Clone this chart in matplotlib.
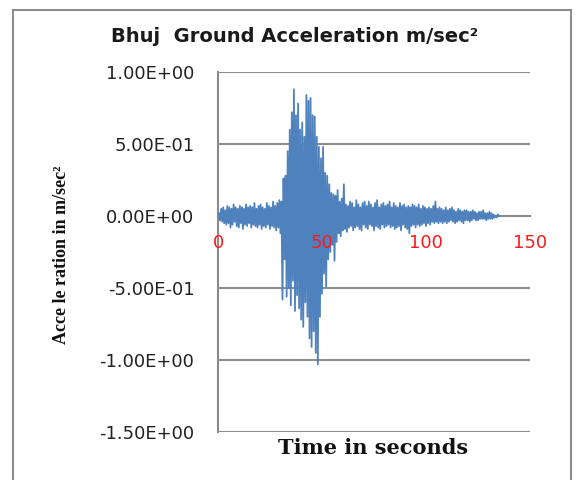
import numpy as np
import matplotlib
matplotlib.use('Agg')
from matplotlib import pyplot as plt
import matplotlib.patches as mpatches

dt = 0.5
acc = [
    # 0 - 30.5 s : low level noise
    0.00, 0.02, -0.03, 0.05, -0.04, 0.06, -0.05, 0.04, -0.06, 0.07,
    -0.05, 0.06, -0.08, 0.05, -0.06, 0.08, -0.04, 0.06, -0.07, 0.05,
    -0.08, 0.07, -0.05, 0.06, -0.09, 0.05, -0.06, 0.08, -0.07, 0.06,
    -0.05, 0.07, -0.08, 0.06, -0.06, 0.09, -0.07, 0.05, -0.08, 0.07,
    -0.06, 0.08, -0.09, 0.06, -0.07, 0.05, -0.08, 0.09, -0.06, 0.07,
    -0.09, 0.06, -0.07, 0.10, -0.08, 0.07, -0.10, 0.09, -0.08, 0.11,
    -0.12, 0.10,
    # 31 - 60.5 s : strong motion
    -0.58, 0.26, -0.30, 0.28, -0.56, 0.45, -0.50, 0.60, -0.62, 0.72,
    -0.45, 0.88, -0.66, 0.70, -0.55, 0.78, -0.64, 0.60, -0.72, 0.65,
    -0.77, 0.55, -0.60, 0.84, -0.70, 0.80, -0.85, 0.82, -0.91, 0.70,
    -0.80, 0.69, -0.95, 0.55, -1.03, 0.48, -0.70, 0.40, -0.54, 0.48,
    -0.40, 0.30, -0.49, 0.28, -0.30, 0.22, -0.25, 0.16, -0.20, 0.15,
    -0.31, 0.14, -0.18, 0.18, -0.12, 0.10, -0.14, 0.12, -0.10, 0.22,
    # 61 - 135 s : coda
    -0.09, 0.08, -0.11, 0.07, -0.08, 0.10, -0.07, 0.09, -0.10, 0.06,
    -0.08, 0.11, -0.07, 0.08, -0.09, 0.06, -0.10, 0.09, -0.06, 0.10,
    -0.08, 0.07, -0.09, 0.10, -0.06, 0.08, -0.07, 0.06, -0.10, 0.09,
    -0.07, 0.11, -0.08, 0.06, -0.09, 0.08, -0.06, 0.09, -0.08, 0.07,
    -0.07, 0.08, -0.06, 0.10, -0.08, 0.06, -0.07, 0.09, -0.09, 0.07,
    -0.08, 0.06, -0.07, 0.09, -0.10, 0.07, -0.06, 0.08, -0.08, 0.06,
    -0.09, 0.07, -0.12, 0.06, -0.07, 0.08, -0.06, 0.07, -0.08, 0.06,
    -0.06, 0.08, -0.07, 0.05, -0.06, 0.07, -0.05, 0.06, -0.07, 0.05,
    -0.05, 0.06, -0.06, 0.05, -0.04, 0.07, -0.05, 0.10, -0.04, 0.05,
    -0.05, 0.06, -0.04, 0.05, -0.05, 0.04, -0.04, 0.06, -0.05, 0.04,
    -0.04, 0.05, -0.03, 0.06, -0.04, 0.04, -0.05, 0.03, -0.04, 0.05,
    -0.03, 0.04, -0.04, 0.03, -0.05, 0.04, -0.03, 0.04, -0.03, 0.03,
    -0.04, 0.03, -0.03, 0.04, -0.02, 0.03, -0.03, 0.02, -0.03, 0.03,
    -0.02, 0.03, -0.02, 0.04, -0.02, 0.02, -0.03, 0.02, -0.02, 0.03,
    -0.02, 0.02, -0.02, 0.01, -0.01, 0.00, -0.01, 0.01, 0.00,
]
time = np.arange(len(acc)) * dt

x_ticks = [0, 50, 100, 150]
y_ticks = [1.0, 0.5, 0.0, -0.5, -1.0, -1.5]
y_tick_labels = ['1.00E+00', '5.00E-01', '0.00E+00', '-5.00E-01', '-1.00E+00', '-1.50E+00']

grid_color = '#8c8c8c'
line_color = '#4f81bd'

fig = plt.figure(figsize=(5.82, 4.8), dpi=100)

# outer chart border
fig.patches.append(mpatches.Rectangle((13 / 582, -0.05), 558 / 582, 1.05 - 10 / 480,
                                      transform=fig.transFigure, fill=False,
                                      edgecolor=grid_color, linewidth=1.5))

ax = fig.add_axes([218 / 582, 48 / 480, 312 / 582, 360 / 480])
ax.plot(time, acc, color=line_color, linewidth=1.3, zorder=3)

ax.set_xlim(0, 150)
ax.set_ylim(-1.5, 1.0)
ax.set_yticks(y_ticks)
ax.set_yticklabels(y_tick_labels)
ax.set_xticks(x_ticks)
ax.set_xticklabels([str(v) for v in x_ticks])

ax.yaxis.grid(True, color=grid_color, linewidth=1.5)
ax.set_axisbelow(True)
ax.xaxis.set_zorder(5)  # red time labels sit on top of the trace

for side in ['top', 'right']:
    ax.spines[side].set_visible(False)
ax.spines['left'].set_color(grid_color)
ax.spines['left'].set_linewidth(1.5)
ax.spines['bottom'].set_position(('data', 0))
ax.spines['bottom'].set_color(grid_color)
ax.spines['bottom'].set_linewidth(1.5)
ax.spines['bottom'].set_zorder(2)

ax.tick_params(axis='y', length=0, pad=17, labelsize=13, labelcolor='#222222')
ax.tick_params(axis='x', length=0, pad=13, labelsize=13, labelcolor='#ff1a1a')

fig.text(295 / 582, 1 - 36 / 480, 'Bhuj  Ground Acceleration m/sec²', ha='center', va='center',
         fontsize=14, fontweight='bold', color='#1a1a1a')
fig.text(62 / 582, 1 - 255 / 480, 'Acce le ration in m/sec²', ha='center', va='center',
         rotation=90, fontsize=13, fontweight='bold', family='Liberation Serif', color='#111111')
fig.text(373 / 582, 1 - 448 / 480, 'Time in seconds', ha='center', va='center',
         fontsize=15, fontweight='bold', family='DejaVu Serif', color='#111111')

fig.savefig('out.png', dpi=100)
